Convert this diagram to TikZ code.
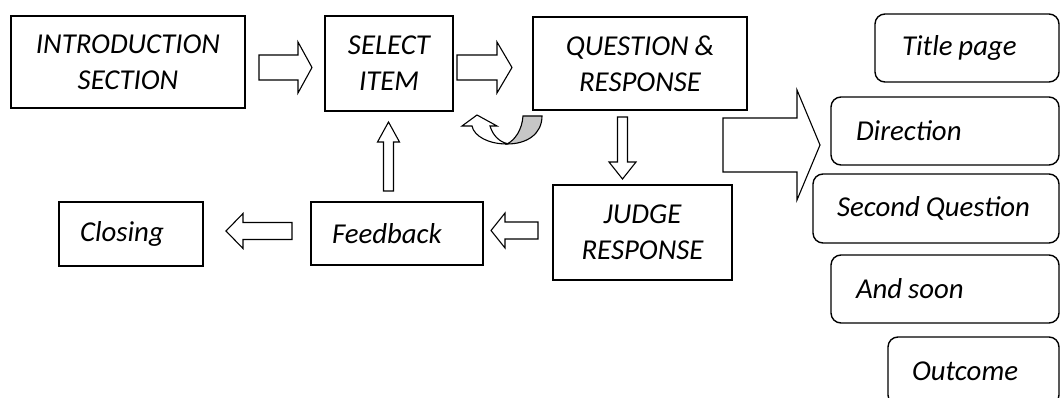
\documentclass[tikz,border=0pt]{standalone}
\usepackage{fontspec}
\setmainfont{Carlito}[WordSpace=0.9]
\usetikzlibrary{calc}
\newcommand{\nsp}{\spaceskip=0pt\xspaceskip=0pt\relax}
\tikzset{
  box/.style={draw, line width=1.4pt, inner sep=0pt, font=\itshape\fontsize{28.8}{36}\selectfont, align=center},
  lbox/.style={box, align=left, inner xsep=21pt},
  rbox/.style={box, rounded corners=10pt, align=left},
  barrow/.style={draw, line width=1.1pt, fill=white, line join=miter},
  backband/.style={draw, line width=1.1pt, fill=gray!45},
}
\newcommand{\harr}[5]{%
  \draw[barrow] let \p1=(#1), \p2=(#2), \n1={sign(\x2-\x1)} in
    (\x1,\y2+#3) -- ({\x2-(\n1)*#5},\y2+#3) -- ({\x2-(\n1)*#5},\y2+#4) -- (\p2)
    -- ({\x2-(\n1)*#5},\y2-#4) -- ({\x2-(\n1)*#5},\y2-#3) -- (\x1,\y2-#3) -- cycle;}
\newcommand{\varr}[5]{%
  \draw[barrow] let \p1=(#1), \p2=(#2), \n1={sign(\y2-\y1)} in
    (\x2+#3,\y1) -- (\x2+#3,{\y2-(\n1)*#5}) -- (\x2+#4,{\y2-(\n1)*#5}) -- (\p2)
    -- (\x2-#4,{\y2-(\n1)*#5}) -- (\x2-#3,{\y2-(\n1)*#5}) -- (\x2-#3,\y1) -- cycle;}
\begin{document}
\begin{tikzpicture}[x=1pt,y=-1pt]
\useasboundingbox (0,0) rectangle (1060,398);
\clip (0,0) rectangle (1060,398);

% main boxes
\node[box, minimum width=234pt, minimum height=92pt] (intro) at (128,62) {INTRODUCTION\\SECTION};
\node[box, minimum width=128pt, minimum height=95pt] (sel) at (389,63.5) {SELECT\\ITEM};
\node[box, minimum width=214pt, minimum height=93pt] (qr) at (640,63.5) {QUESTION \&\\RESPONSE};
\node[box, minimum width=179pt, minimum height=95pt] (judge) at (642.5,232.5) {JUDGE\\RESPONSE};
\node[lbox, text width=130pt, minimum height=63pt] (fb) at (397,233.5) {Feedback};
\node[lbox, text width=102pt, minimum height=64pt] (clo) at (131,234) {Closing};

% rounded boxes
\node[rbox, inner xsep=27pt, text width=130pt, minimum height=68pt] (tp) at (967,48) {\nsp Title page};
\node[rbox, inner xsep=25pt, text width=178pt, minimum height=68pt] (dir) at (945,131) {Direction};
\node[rbox, inner xsep=24pt, text width=198pt, minimum height=69pt] (sq) at (936,208.5) {\nsp Second~Question};
\node[rbox, inner xsep=25pt, text width=178pt, minimum height=68pt] (soon) at (945,289) {\nsp And soon};
\node[rbox, inner xsep=24pt, text width=123pt, minimum height=68pt] (out) at (973.5,371) {Outcome};

% block arrows
\coordinate (a1s) at (259,67.5);  \coordinate (a1e) at (312,67.5);
\coordinate (a2s) at (457,67.5);  \coordinate (a2e) at (512,67.5);
\coordinate (a3s) at (622.5,117); \coordinate (a3e) at (622.5,179);
\coordinate (a4s) at (538,230.5); \coordinate (a4e) at (491,230.5);
\coordinate (a5s) at (292,231);   \coordinate (a5e) at (226,231);
\coordinate (a6s) at (388.5,191); \coordinate (a6e) at (388.5,122);
\coordinate (a7s) at (723,145);   \coordinate (a7e) at (820,145);

\harr{a1s}{a1e}{12.5pt}{25.5pt}{14pt}
\harr{a2s}{a2e}{12.5pt}{25.5pt}{15pt}
\varr{a3s}{a3e}{5pt}{13.5pt}{17pt}
\harr{a4s}{a4e}{8.5pt}{17.5pt}{14pt}
\harr{a5s}{a5e}{8.5pt}{17.5pt}{17pt}
\varr{a6s}{a6e}{5pt}{11pt}{20pt}
\harr{a7s}{a7e}{27pt}{55pt}{23pt}

% curved U-turn arrow
\draw[backband] (523,116) -- (542,116) .. controls (542,134) and (527,144) .. (507,144)
  .. controls (515,140) and (522,130) .. (523,116) -- cycle;
\draw[barrow] (507,144) .. controls (488,144) and (474,136) .. (472,126) -- (462,126) -- (477,115)
  -- (497,126) -- (490,126) .. controls (493,136) and (500,142) .. (507,143.5) -- cycle;
\end{tikzpicture}
\end{document}
